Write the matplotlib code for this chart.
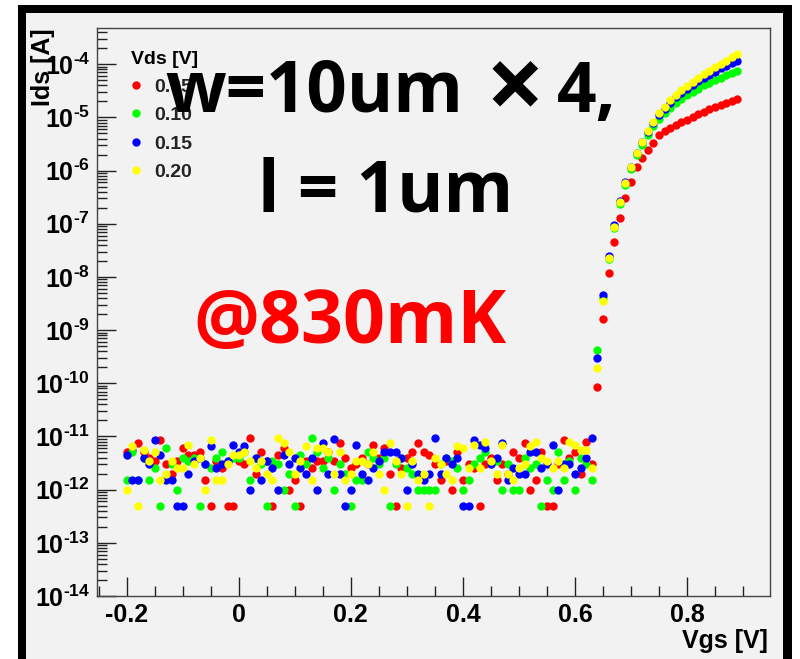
import numpy as np
import matplotlib.pyplot as plt
from matplotlib.patches import Rectangle
from matplotlib.ticker import MultipleLocator, LogLocator, FuncFormatter, NullFormatter

plt.rcParams['font.family'] = ['Liberation Sans', 'DejaVu Sans']
plt.rcParams['mathtext.fontset'] = 'custom'
plt.rcParams['mathtext.rm'] = 'Liberation Sans:bold'
plt.rcParams['mathtext.bf'] = 'Liberation Sans:bold'
plt.rcParams['mathtext.it'] = 'Liberation Sans:bold'

# gate sweep, 10 mV steps
vgs_first = -0.20
vgs_step = 0.01
n_off = 84   # -0.20 .. 0.63 V, current at the meter's floor
n_on = 26    # 0.64 .. 0.89 V

vds_labels = ['0.05', '0.10', '0.15', '0.20']
colors = ['#ff0000', '#00ff00', '#0000ff', '#ffff00']

# off-state readings in pA (instrument resolution 0.5 pA)
off_pa_005 = [5, 5.5, 7.5, 5, 4, 3.5, 8.5, 3, 2, 3.5, 6, 4.5, 4.5, 5, 1.5, 0.5, 3.5, 2.5, 0.5, 0.5,
              3.5, 3, 9.5, 2, 5, 3.5, 0.5, 4.5, 6, 1, 1.5, 0.5, 3.5, 2.5, 3.5, 3.5, 5, 3.5, 7.5, 4,
              2.5, 3, 4, 3, 7, 4, 6, 2, 0.5, 2.5, 4, 5, 7.5, 5, 4.5, 3, 1.5, 3.5, 1, 5,
              1.5, 3, 2.5, 0.5, 3, 4, 1.5, 3, 2, 5, 4, 7.5, 1, 1.5, 5, 0.5, 0.5, 3, 8.5, 4, 5, 2, 8, 3]
off_pa_010 = [1.5, 5, 1.5, 4, 1.5, 2.5, 0.5, 6, 3, 1, 4, 3.5, 4, 0.5, 3, 2.5, 4, 5, 3.5, 4,
              4, 5, 1.5, 4, 3, 0.5, 3.5, 3, 1, 2, 0.5, 4.5, 3, 9.5, 5, 2.5, 4, 1, 3, 2,
              0.5, 1.5, 1.5, 5, 4, 3, 4, 0.5, 3, 4, 2.5, 2, 1, 1, 1, 1, 3, 4, 3.5, 2.5,
              1, 1.5, 3, 4, 5, 3, 3.5, 1, 3, 1, 1, 4, 2.5, 3, 0.5, 1.5, 1, 5, 1.5, 3.5, 1, 4, 3, 1.5]
off_pa_015 = [4.5, 1.5, 1.5, 4, 3, 8.5, 4.5, 1.5, 1.5, 0.5, 0.5, 2, 3.5, 4, 3, 6.5, 2.5, 3, 3.5, 7,
              5, 6.5, 1, 4, 1.5, 3.5, 2.5, 1, 4.5, 3, 4, 2.5, 2, 4, 1, 7.5, 2, 9, 2, 0.5,
              1, 7, 2, 1.5, 2.5, 3.5, 5, 5, 5, 4, 1, 3, 2, 1.5, 2, 9.5, 2, 4, 3, 4,
              0.5, 0.5, 8.5, 7, 6, 3, 4, 7.5, 1.5, 2.5, 2, 2, 5, 5, 2.5, 3, 7, 1, 3, 3, 2, 2.5, 4, 9.5]
off_pa_020 = [1, 6.5, 0.5, 5.5, 3.5, 5, 1.5, 2, 3.5, 2.5, 2.5, 7, 3, 4, 1, 8.5, 1.5, 1.5, 3, 4.5,
              4.5, 5, 3.5, 2.5, 3.5, 2, 1.5, 9.5, 7.5, 5, 2, 3.5, 6.5, 1.5, 6, 6, 5, 2, 5, 1.5,
              2, 3.5, 3.5, 3, 5, 2, 1, 7.5, 3.5, 2, 0.5, 3.5, 1.5, 2, 0.5, 4, 3, 2, 1.5, 6.5,
              6, 2.5, 7, 2.5, 8, 3.5, 2, 7, 2, 1.5, 2.5, 3, 6.5, 8, 4, 3.5, 2.5, 3.5, 2.5, 8, 7, 5.5, 5.5, 2.5]

# turn-on branch, log10(Ids / A)
on_log_005 = [-10.07, -8.79, -7.93, -7.35, -6.89, -6.52, -6.22, -5.94, -5.77, -5.62, -5.48, -5.33, -5.26,
              -5.20, -5.14, -5.09, -5.04, -4.99, -4.94, -4.89, -4.84, -4.80, -4.76, -4.72, -4.69, -4.66]
on_log_010 = [-9.38, -8.40, -7.66, -7.08, -6.62, -6.27, -5.97, -5.71, -5.51, -5.33, -5.17, -5.03, -4.92,
              -4.82, -4.73, -4.65, -4.58, -4.52, -4.46, -4.40, -4.35, -4.30, -4.25, -4.21, -4.17, -4.13]
on_log_015 = [-9.53, -8.34, -7.60, -7.02, -6.57, -6.22, -5.93, -5.67, -5.47, -5.28, -5.11, -4.95, -4.84,
              -4.72, -4.62, -4.54, -4.46, -4.39, -4.32, -4.26, -4.20, -4.14, -4.08, -4.03, -3.98, -3.94]
on_log_020 = [-9.71, -8.45, -7.65, -7.06, -6.59, -6.24, -5.94, -5.67, -5.47, -5.26, -5.09, -4.92, -4.81,
              -4.68, -4.58, -4.49, -4.41, -4.33, -4.26, -4.19, -4.12, -4.05, -3.99, -3.93, -3.87, -3.81]

off_all = [off_pa_005, off_pa_010, off_pa_015, off_pa_020]
on_all = [on_log_005, on_log_010, on_log_015, on_log_020]

W, H = 800, 659
fig = plt.figure(figsize=(W / 100, H / 100), dpi=100, facecolor='white')

# canvas frame: thick black border with grey pad inside
fig.add_artist(Rectangle((18 / W, -0.05), 774 / W, (H - 5) / H + 0.05,
                         transform=fig.transFigure, facecolor='black', edgecolor='none', zorder=-3))
fig.add_artist(Rectangle((26 / W, -0.05), 757 / W, (H - 13) / H + 0.05,
                         transform=fig.transFigure, facecolor='#f2f2f2', edgecolor='none', zorder=-2))

ax = fig.add_axes([97 / W, 1 - 596 / H, 673 / W, 568 / H])
ax.set_facecolor('#f2f2f2')

vgs = np.round(vgs_first + vgs_step * np.arange(n_off + n_on), 2)
for lab, col, off, on in zip(vds_labels, colors, off_all, on_all):
    ids = np.concatenate([np.array(off) * 1e-12, 10.0 ** np.array(on)])
    ax.plot(vgs, ids, linestyle='none', marker='o', ms=6.0, mec='none', mfc=col, label=lab)

ax.set_yscale('log')
ax.set_xlim(-0.253, 0.948)
ax.set_ylim(1e-14, 4.8e-4)

ax.xaxis.set_major_locator(MultipleLocator(0.2))
ax.xaxis.set_minor_locator(MultipleLocator(0.05))
ax.xaxis.set_major_formatter(FuncFormatter(lambda v, p: '0' if abs(v) < 1e-9 else f'{v:.1f}'))
ax.yaxis.set_major_locator(LogLocator(base=10, numticks=20))
ax.yaxis.set_minor_locator(LogLocator(base=10, subs=np.arange(2, 10), numticks=20))
ax.yaxis.set_minor_formatter(NullFormatter())
ax.yaxis.set_major_formatter(
    FuncFormatter(lambda v, p: r'$\mathbf{10^{\text{-}%d}}$' % abs(int(round(np.log10(v))))))

ax.tick_params(which='both', direction='in', top=False, right=False, color='#222222', width=1.0)
ax.tick_params(which='major', length=14, labelsize=18)
ax.tick_params(which='minor', length=7)
ax.tick_params(axis='x', pad=5)
ax.tick_params(axis='y', pad=5)
for lbl in ax.get_xticklabels():
    lbl.set_fontweight('bold')
for sp in ax.spines.values():
    sp.set_color('#444444')
    sp.set_linewidth(1.0)

ax.set_xlabel('Vgs [V]', loc='right', fontsize=18, fontweight='bold')
ax.xaxis.set_label_coords(0.997, -0.058)
ax.set_ylabel('Ids [A]', loc='top', fontsize=18, fontweight='bold')
ax.yaxis.set_label_coords(-0.062, 1.0)

leg = ax.legend(title='Vds [V]', loc='upper left', bbox_to_anchor=(117 / W, 1 - 37 / H),
                bbox_transform=fig.transFigure, frameon=False, fontsize=14,
                title_fontproperties={'size': 14, 'weight': 'bold'}, alignment='left',
                handlelength=0.6, handletextpad=0.6, labelspacing=0.55, borderpad=0.2)
for t in leg.get_texts():
    t.set_fontweight('bold')
    t.set_color('#222222')

# device and temperature notes
big = dict(family=['Open Sans', 'DejaVu Sans'], fontweight='bold', ha='left', va='baseline', zorder=10)
fig.text(165 / W, 1 - 112 / H, 'w=10um', fontsize=51, color='black', **big)
fig.text(486 / W, 1 - 120 / H, '×', fontsize=74, color='black', **big)
fig.text(557 / W, 1 - 112 / H, '4,', fontsize=50, color='black', **big)
fig.text(258 / W, 1 - 212 / H, 'l = 1um', fontsize=51, color='black', **big)
fig.text(193 / W, 1 - 343 / H, '@830mK', fontsize=53, color='#ff0000', **big)

fig.savefig('out.png', dpi=100, facecolor='white')
